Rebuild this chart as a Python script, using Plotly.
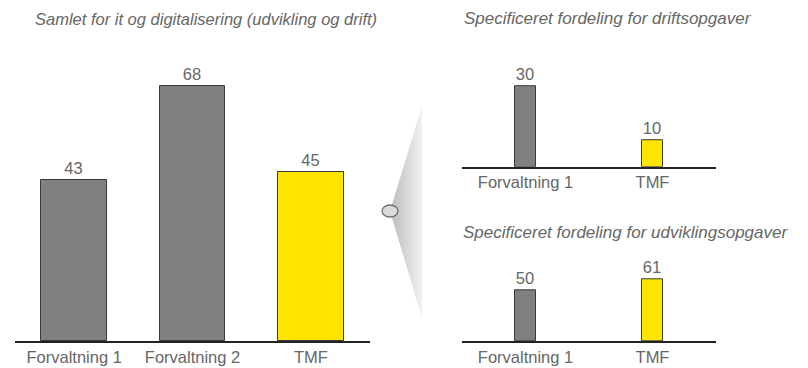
import plotly.graph_objects as go

W, H = 808, 368

# Data
main_categories = ["Forvaltning 1", "Forvaltning 2", "TMF"]
main_values = [43, 68, 45]
drift_categories = ["Forvaltning 1", "TMF"]
drift_values = [30, 10]
udv_categories = ["Forvaltning 1", "TMF"]
udv_values = [50, 61]

title_main = "Samlet for it og digitalisering (udvikling og drift)"
title_drift = "Specificeret fordeling for driftsopgaver"
title_udv = "Specificeret fordeling for udviklingsopgaver"

GRAY = "#808080"
YELLOW = "#FFE500"
TXT = "#666666"
FONT = "Liberation Sans, Arial, sans-serif"
FS = 16.5


def colors_for(cats):
    return [YELLOW if c == "TMF" else GRAY for c in cats]


fig = go.Figure()

def add_bars(cats, vals, xa, ya, width):
    fig.add_trace(go.Bar(
        x=cats, y=vals, xaxis=xa, yaxis=ya, width=width,
        marker=dict(color=colors_for(cats), line=dict(color="#3a3a3a", width=1)),
        text=vals, textposition="outside", cliponaxis=False,
        textfont=dict(size=FS, color=TXT, family=FONT),
        hoverinfo="skip", showlegend=False,
    ))

add_bars(main_categories, main_values, "x", "y", 0.557)
add_bars(drift_categories, drift_values, "x2", "y2", 0.172)
add_bars(udv_categories, udv_values, "x3", "y3", 0.172)

# connector triangle with gradient (decoration, on an overlay pixel axis)
fig.add_trace(go.Scatter(
    x=[390, 422, 422, 390], y=[211, 106, 318, 211], xaxis="x4", yaxis="y4",
    mode="lines", line=dict(width=0), fill="toself",
    fillgradient=dict(type="horizontal", colorscale=[[0, "#bababa"], [1, "#f2f2f2"]]),
    hoverinfo="skip", showlegend=False,
))

xcommon = dict(showgrid=False, zeroline=False, showline=True, linecolor="#222222",
               linewidth=1.5, ticks="", tickfont=dict(size=FS, color=TXT, family=FONT),
               fixedrange=True)
ycommon = dict(showgrid=False, zeroline=False, showline=False, showticklabels=False,
               fixedrange=True)

fig.update_layout(
    width=W, height=H, margin=dict(l=0, r=0, t=0, b=0),
    paper_bgcolor="white", plot_bgcolor="rgba(0,0,0,0)",
    font=dict(family=FONT, color=TXT),
    xaxis=dict(domain=[15 / W, 370 / W], range=[-0.5, 2.5], anchor="y", **xcommon),
    yaxis=dict(domain=[27 / H, 297 / H], range=[0, 72], anchor="x", **ycommon),
    xaxis2=dict(domain=[462 / W, 716 / W], range=[-0.5, 1.5], anchor="y2", **xcommon),
    yaxis2=dict(domain=[201.3 / H, 295.8 / H], range=[0, 35], anchor="x2", **ycommon),
    xaxis3=dict(domain=[462 / W, 716 / W], range=[-0.5, 1.5], anchor="y3", **xcommon),
    yaxis3=dict(domain=[27 / H, 97.7 / H], range=[0, 70], anchor="x3", **ycommon),
    xaxis4=dict(domain=[0, 1], range=[0, W], visible=False, fixedrange=True, anchor="y4"),
    yaxis4=dict(domain=[0, 1], range=[H, 0], visible=False, fixedrange=True, anchor="x4"),
    bargap=0,
    shapes=[dict(type="circle", xref="x4", yref="y4", x0=382, x1=398, y0=205, y1=217,
                 fillcolor="#dadada", line=dict(color="#6e6e6e", width=1.3))],
    annotations=[
        dict(text=f"<i>{title_main}</i>", xref="paper", yref="paper", x=33 / W, y=1 - 19 / H,
             xanchor="left", yanchor="middle", showarrow=False,
             font=dict(size=16.5, color=TXT, family=FONT)),
        dict(text=f"<i>{title_drift}</i>", xref="paper", yref="paper", x=462 / W, y=1 - 19 / H,
             xanchor="left", yanchor="middle", showarrow=False,
             font=dict(size=17, color=TXT, family=FONT)),
        dict(text=f"<i>{title_udv}</i>", xref="paper", yref="paper", x=461 / W, y=1 - 232 / H,
             xanchor="left", yanchor="middle", showarrow=False,
             font=dict(size=17, color=TXT, family=FONT)),
    ],
)

fig.write_html("out.html", config={"displayModeBar": False},
               post_script="document.body.style.margin='0';document.body.style.overflow='hidden';")
